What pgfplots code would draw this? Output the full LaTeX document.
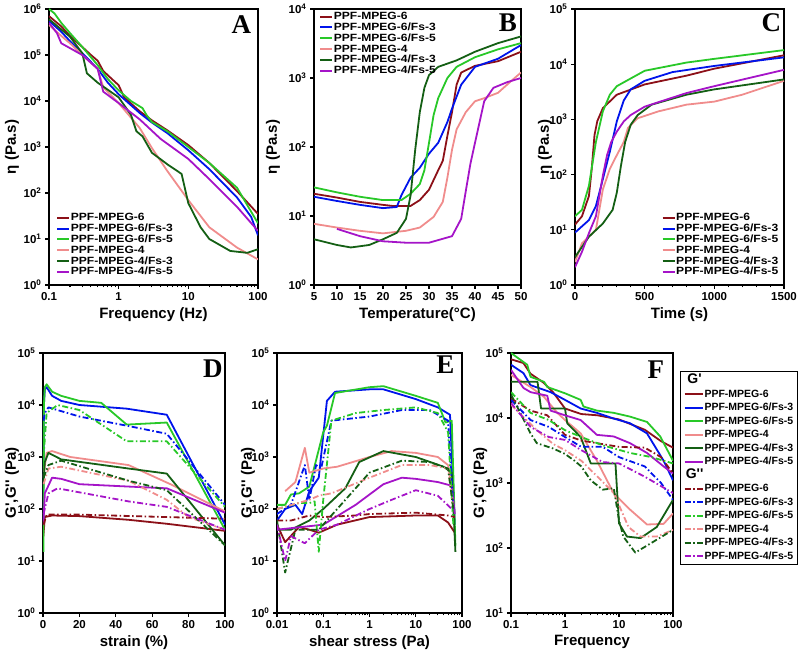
\documentclass[border=0pt]{standalone}
\usepackage{fontspec}
\setmainfont{Liberation Sans}
\newfontfamily\serifletter{Liberation Serif}
\newfontfamily\legfont[FakeStretch=1.15]{Liberation Sans}
\usepackage{pgfplots}
\pgfplotsset{compat=1.18}
\definecolor{cR}{RGB}{140,16,24}
\definecolor{cB}{RGB}{0,20,235}
\definecolor{cG}{RGB}{40,200,40}
\definecolor{cP}{RGB}{240,140,140}
\definecolor{cD}{RGB}{20,95,20}
\definecolor{cV}{RGB}{165,20,200}
\newcommand{\E}[1]{10\textsuperscript{#1}}
\newcommand{\Gp}{G\textquotesingle}
\newcommand{\Gpp}{G\textquotesingle\textquotesingle}
\newcommand{\panel}[1]{{\serifletter\bfseries\fontsize{27}{27}\selectfont #1}}
\pgfplotsset{
 base/.style={scale only axis, axis line style={line width=1.4pt}, tick align=outside, tick pos=left,
   major tick length=4pt, minor tick length=2.5pt, every tick/.style={black,line width=1.1pt},
   ticklabel style={font=\bfseries\fontsize{11.5}{11.5}\selectfont},
   label style={font=\bfseries\fontsize{15}{15}\selectfont},
   /pgf/number format/assume math mode=true, no markers, yminorticks=false,
   every axis plot/.append style={line width=1.8pt, line join=round},
   legend cell align=left},
 ylab/.style={ylabel style={at={(axis description cs:#1,0.5)}, anchor=center}},
 lg/.style={legend style={draw=none, fill=none, font=\legfont\bfseries\fontsize{10.5}{10.5}\selectfont, row sep=0pt,
   nodes={inner sep=0.5pt, text height=8pt, text depth=1.8pt}},
   legend image code/.code={\draw[##1, line width=2pt] (0pt,0pt) -- (12pt,0pt);}},
 dd/.style={dash pattern=on 6pt off 2.5pt on 1.5pt off 2.5pt},
}
\begin{document}
\begin{tikzpicture}
\path[use as bounding box] (0,0) rectangle (800pt,653pt);
% ---------------- A
\begin{axis}[base, lg, ylab=-0.177, at={(49pt,368pt)}, anchor=south west, width=209pt, height=276pt,
  xmode=log, ymode=log, xmin=0.1, xmax=100, ymin=1, ymax=1e6,
  xtick={0.1,1,10,100}, xticklabels={0.1,1,10,100},
  ytick={1,10,100,1000,10000,100000,1000000}, yticklabels={\E{0},\E{1},\E{2},\E{3},\E{4},\E{5},\E{6}},
  xlabel={Frequency (Hz)}, ylabel={η (Pa.s)},
  legend style={at={(0.02,0.02)}, anchor=south west}]
\addplot[cR] coordinates {(0.1,7e5)(0.15,4.2e5)(0.2,2.6e5)(0.3,1.5e5)(0.4,1e5)(0.5,7.5e4)(0.6,4.5e4)(0.8,3e4)(1,2.2e4)(1.2,1.2e4)(2,6000)(3,3800)(5,2300)(10,1100)(20,450)(50,110)(100,35)};
\addlegendentry{PPF-MPEG-6}
\addplot[cB] coordinates {(0.1,5.5e5)(0.15,3.2e5)(0.2,2e5)(0.3,1.1e5)(0.5,5e4)(0.7,2.5e4)(1,1.4e4)(2,5500)(3,3400)(5,2000)(10,850)(20,330)(50,80)(80,30)(100,12)};
\addlegendentry{PPF-MPEG-6/Fs-3}
\addplot[cG] coordinates {(0.1,1e6)(0.12,8e5)(0.15,5e5)(0.2,3e5)(0.3,1.5e5)(0.5,6e4)(0.7,3e4)(1,1.7e4)(1.5,1e4)(2.2,7000)(2.5,5000)(3,3500)(5,2200)(10,1000)(20,450)(50,130)(100,22)};
\addlegendentry{PPF-MPEG-6/Fs-5}
\addplot[cP] coordinates {(0.1,4.5e5)(0.15,2.6e5)(0.2,1.8e5)(0.3,1e5)(0.5,5e4)(0.6,2e4)(1,9000)(2,2600)(3,950)(5,300)(10,70)(20,18)(50,6.5)(100,3.6)};
\addlegendentry{PPF-MPEG-4}
\addplot[cD] coordinates {(0.1,6e5)(0.2,2.5e5)(0.3,1.1e5)(0.35,4e4)(0.5,2.5e4)(1,1.2e4)(1.5,5000)(1.8,2200)(2.2,1700)(3,750)(5,420)(8,260)(10,60)(15,18)(20,10)(40,5.5)(70,5)(100,6)};
\addlegendentry{PPF-MPEG-4/Fs-3}
\addplot[cV] coordinates {(0.1,5e5)(0.13,3e5)(0.15,1.8e5)(0.3,1e5)(0.5,5e4)(0.6,1.6e4)(1,9000)(2,4000)(4,1500)(10,550)(20,200)(50,50)(100,15)};
\addlegendentry{PPF-MPEG-4/Fs-5}
\node at (rel axis cs:0.92,0.945) {\panel{A}};
\end{axis}
% ---------------- B
\begin{axis}[base, lg, ylab=-0.198, at={(314pt,368pt)}, anchor=south west, width=207pt, height=276pt,
  ymode=log, xmin=5, xmax=50, ymin=1, ymax=1e4,
  xtick={5,10,...,50}, xticklabels={5,10,15,20,25,30,35,40,45,50},
  ytick={1,10,100,1000,10000}, yticklabels={\E{0},\E{1},\E{2},\E{3},\E{4}},
  xlabel={Temperature(°C)}, ylabel={η (Pa.s)},
  legend style={at={(0.01,1.0)}, anchor=north west}]
\addplot[cR] coordinates {(5,21)(10,18.5)(15,16)(20,14.5)(22,14)(26,14)(28,17)(30,24)(32,46)(33,63)(34,145)(35,320)(36,800)(37,1200)(40,1500)(45,1750)(50,2400)};
\addlegendentry{PPF-MPEG-6}
\addplot[cB] coordinates {(5,19)(10,16.5)(15,14.5)(20,13)(23,13.5)(24,20)(26,36)(28,50)(30,80)(32,115)(34,230)(35,360)(37,800)(40,1450)(45,1900)(50,3000)};
\addlegendentry{PPF-MPEG-6/Fs-3}
\addplot[cG] coordinates {(5,26)(10,22)(15,19)(20,17)(24,17)(26,21)(28,29)(29,46)(30,115)(31,290)(32,510)(34,1000)(36,1450)(40,2000)(45,2600)(50,3200)};
\addlegendentry{PPF-MPEG-6/Fs-5}
\addplot[cP] coordinates {(5,7.7)(10,6.8)(15,6.1)(20,5.6)(25,6.1)(28,6.8)(31,9.7)(33,16)(34,36)(35,91)(36,180)(38,320)(40,460)(42,510)(45,610)(48,920)(50,1200)};
\addlegendentry{PPF-MPEG-4}
\addplot[cD] coordinates {(5,4.6)(10,3.8)(13,3.5)(17,3.8)(20,4.6)(23,5.7)(25,9.1)(26,20)(27,91)(28,320)(29,720)(30,1100)(32,1450)(36,1800)(40,2400)(45,3200)(50,4000)};
\addlegendentry{PPF-MPEG-4/Fs-3}
\addplot[cV] coordinates {(10,6.5)(15,5.1)(20,4.3)(25,4.1)(30,4.1)(35,5.1)(37,9.1)(38,23)(39,57)(40,115)(41,230)(42,460)(44,720)(47,870)(50,1000)};
\addlegendentry{PPF-MPEG-4/Fs-5}
\node at (rel axis cs:0.937,0.95) {\panel{B}};
\end{axis}
% ---------------- C
\begin{axis}[base, lg, ylab=-0.144, at={(575pt,368pt)}, anchor=south west, width=209pt, height=276pt,
  ymode=log, xmin=0, xmax=1500, ymin=1, ymax=1e5,
  xtick={0,500,1000,1500}, xticklabels={0,500,1000,1500}, minor x tick num=4,
  ytick={1,10,100,1000,10000,100000}, yticklabels={\E{0},\E{1},\E{2},\E{3},\E{4},\E{5}},
  xlabel={Time (s)}, ylabel={η (Pa.s)},
  legend style={at={(0.99,0.02)}, anchor=south east}]
\addplot[cR] coordinates {(0,12.4)(50,17.6)(100,41)(120,127)(140,520)(160,930)(200,1600)(300,2800)(500,4300)(800,6200)(1000,8300)(1500,14500)};
\addlegendentry{PPF-MPEG-6}
\addplot[cB] coordinates {(0,8.9)(100,15)(150,27)(200,83)(250,260)(300,920)(350,2200)(400,3500)(500,5000)(700,7200)(1000,9300)(1500,13300)};
\addlegendentry{PPF-MPEG-6/Fs-3}
\addplot[cG] coordinates {(0,17.6)(50,23)(100,63)(150,390)(200,1400)(250,2800)(300,4000)(500,7600)(800,10700)(1000,12500)(1500,18000)};
\addlegendentry{PPF-MPEG-6/Fs-5}
\addplot[cP] coordinates {(0,2.6)(50,5.7)(150,10)(200,54)(250,127)(300,225)(350,390)(380,700)(450,1050)(600,1400)(800,1850)(1000,2100)(1200,2800)(1500,5000)};
\addlegendentry{PPF-MPEG-4}
\addplot[cD] coordinates {(0,3.2)(100,7.5)(200,13)(270,23)(300,47)(330,146)(360,390)(400,800)(450,1200)(550,1850)(800,2800)(1000,3500)(1500,5300)};
\addlegendentry{PPF-MPEG-4/Fs-3}
\addplot[cV] coordinates {(0,2.1)(50,4)(100,8.7)(150,17.6)(200,96)(230,225)(260,390)(300,600)(350,920)(400,1200)(500,1700)(800,3000)(1000,4000)(1500,7900)};
\addlegendentry{PPF-MPEG-4/Fs-5}
\node at (rel axis cs:0.94,0.95) {\panel{C}};
\end{axis}
% ---------------- D
\begin{axis}[base, ylab=-0.17, at={(43pt,40pt)}, anchor=south west, width=182pt, height=260pt,
  ymode=log, xmin=0, xmax=100, ymin=1, ymax=1e5,
  xtick={0,20,...,100}, xticklabels={0,20,40,60,80,100},
  ytick={1,10,100,1000,10000,100000}, yticklabels={\E{0},\E{1},\E{2},\E{3},\E{4},\E{5}},
  xlabel={strain (\%)}, ylabel={\Gp,\Gpp\ (Pa)}]
\addplot[cR] coordinates {(0.2,30)(1,70)(5,75)(20,73)(47,62)(68,52)(100,38)};
\addplot[cB] coordinates {(0.2,60)(0.5,1e4)(1,2e4)(2,2.2e4)(5,1.5e4)(10,1.2e4)(20,1e4)(46,8.5e3)(68,6.5e3)(100,50)};
\addplot[cG] coordinates {(0.2,15)(0.5,1e4)(1,2.2e4)(2,2.5e4)(5,1.8e4)(10,1.5e4)(20,1.2e4)(32,1.1e4)(46,4.2e3)(68,4.6e3)(100,40)};
\addplot[cP] coordinates {(0.2,400)(2,1.2e3)(5,1.3e3)(15,1e3)(47,7e2)(70,3e2)(100,90)};
\addplot[cD] coordinates {(0.2,300)(1,800)(3,1.2e3)(10,9e2)(47,6e2)(68,4.8e2)(100,20)};
\addplot[cV] coordinates {(0.2,50)(1,200)(5,400)(10,380)(20,300)(47,270)(68,250)(100,85)};
\addplot[cR,dd] coordinates {(0.3,50)(2,78)(20,78)(68,70)(100,65)};
\addplot[cB,dd] coordinates {(0.3,5e3)(1,7e3)(3,9e3)(20,6e3)(46,4e3)(68,2.8e3)(100,120)};
\addplot[cG,dd] coordinates {(0.3,1e3)(2,7e3)(8,1e4)(20,8e3)(46,2e3)(68,2e3)(100,110)};
\addplot[cP,dd] coordinates {(0.3,300)(3,600)(10,650)(47,350)(68,150)(80,70)(100,40)};
\addplot[cD,dd] coordinates {(0.3,400)(3,700)(10,850)(47,350)(68,230)(100,20)};
\addplot[cV,dd] coordinates {(0.3,80)(3,200)(8,250)(47,140)(68,110)(100,40)};
\node at (rel axis cs:0.934,0.94) {\panel{D}};
\end{axis}
% ---------------- E
\begin{axis}[base, ylab=-0.157, at={(277pt,40pt)}, anchor=south west, width=185pt, height=260pt,
  xmode=log, ymode=log, xmin=0.01, xmax=100, ymin=1, ymax=1e5,
  xtick={0.01,0.1,1,10,100}, xticklabels={0.01,0.1,1,10,100},
  ytick={1,10,100,1000,10000,100000}, yticklabels={\E{0},\E{1},\E{2},\E{3},\E{4},\E{5}},
  xlabel={shear stress (Pa)}, ylabel={\Gp,\Gpp\ (Pa)}]
\addplot[cR] coordinates {(0.01,50)(0.015,23)(0.03,45)(0.05,40)(0.08,35)(0.2,50)(1,70)(10,75)(30,75)(50,55)(70,35)};
\addplot[cB] coordinates {(0.01,60)(0.015,100)(0.025,120)(0.035,80)(0.05,220)(0.08,400)(0.12,1.2e4)(0.18,1.8e4)(1,2e4)(2,2e4)(10,1.3e4)(30,9e3)(55,6.5e3)(70,50)};
\addplot[cG] coordinates {(0.01,120)(0.015,120)(0.02,190)(0.03,200)(0.05,270)(0.1,3000)(0.12,4000)(0.18,1.7e4)(1,2.2e4)(2,2.3e4)(10,1.5e4)(30,1.1e4)(44,4.6e3)(60,5e3)(72,20)};
\addplot[cP] coordinates {(0.015,220)(0.025,330)(0.04,1.5e3)(0.05,500)(0.1,600)(0.2,650)(1,1e3)(3,1.3e3)(10,1.2e3)(30,1e3)(50,700)(65,150)};
\addplot[cD] coordinates {(0.01,40)(0.02,40)(0.05,60)(0.1,100)(0.3,250)(0.6,800)(2,1.3e3)(10,1e3)(40,650)(60,500)(72,15)};
\addplot[cV] coordinates {(0.01,40)(0.1,50)(0.5,120)(2,300)(5,400)(10,380)(30,330)(60,280)(70,80)};
\addplot[cR,dd] coordinates {(0.01,60)(0.02,60)(0.05,75)(0.1,70)(0.5,75)(1,80)(10,85)(50,75)(70,70)};
\addplot[cB,dd] coordinates {(0.01,80)(0.02,120)(0.04,700)(0.05,150)(0.07,700)(0.09,600)(0.15,5e3)(1,6e3)(5,8e3)(20,8e3)(50,5e3)(65,100)};
\addplot[cG,dd] coordinates {(0.01,100)(0.03,130)(0.05,130)(0.065,140)(0.08,15)(0.1,150)(0.15,5e3)(0.5,7e3)(2,8e3)(10,9e3)(30,7e3)(50,3e3)(65,50)};
\addplot[cP,dd] coordinates {(0.01,100)(0.05,150)(0.08,180)(0.15,200)(1,400)(5,700)(20,700)(50,600)(65,100)};
\addplot[cD,dd] coordinates {(0.01,60)(0.015,6)(0.025,40)(0.05,40)(0.08,40)(0.1,50)(0.3,150)(1,500)(5,850)(20,800)(50,600)(65,100)};
\addplot[cV,dd] coordinates {(0.01,50)(0.015,10)(0.02,30)(0.04,22)(0.08,40)(0.2,50)(1,100)(3,150)(10,230)(30,180)(60,100)};
\node at (rel axis cs:0.91,0.954) {\panel{E}};
\end{axis}
% ---------------- F
\begin{axis}[base, ylab=-0.19, at={(511pt,40pt)}, anchor=south west, width=162pt, height=260pt,
  xmode=log, ymode=log, xmin=0.1, xmax=100, ymin=10, ymax=1e5,
  xtick={0.1,1,10,100}, xticklabels={0.1,1,10,100},
  ytick={10,100,1000,10000,100000}, yticklabels={\E{1},\E{2},\E{3},\E{4},\E{5}},
  xlabel={Frequency}, ylabel={\Gp,\Gpp\ (Pa)},
  legend style={at={(1.043,0.93)}, anchor=north west, draw=black, line width=1.2pt, fill=white,
    font=\bfseries\fontsize{10.5}{10.5}\selectfont, row sep=0pt,
    nodes={inner sep=1pt, text height=9pt, text depth=2.5pt}},
  legend image code/.code={\draw[#1, line width=2pt] (0pt,0pt) -- (18pt,0pt);}]
\addlegendimage{empty legend}\addlegendentry{\hspace*{-19pt}\fontsize{14}{14}\selectfont\Gp}
\addplot[cR] coordinates {(0.1,8e4)(0.17,7e4)(0.23,4.8e4)(0.4,3.5e4)(0.6,2.5e4)(1,1.4e4)(2,1.15e4)(4,1.1e4)(10,9.5e3)(30,6.6e3)(60,4.4e3)(100,3.5e3)};
\addlegendentry{PPF-MPEG-6}
\addplot[cB] coordinates {(0.1,6.6e4)(0.17,4.9e4)(0.23,3.2e4)(0.54,2.5e4)(1,1.9e4)(1.95,1.4e4)(3.9,1.2e4)(8,9.8e3)(16,8.3e3)(33,5.8e3)(67,2.2e3)(100,1.1e3)};
\addlegendentry{PPF-MPEG-6/Fs-3}
\addplot[cG] coordinates {(0.1,1e5)(0.2,6.6e4)(0.23,4.3e4)(0.41,3.6e4)(0.47,3e4)(1,2.4e4)(1.95,1.9e4)(2.2,1.5e4)(3.9,1.3e4)(8,1.2e4)(16,1.05e4)(33,8.7e3)(58,5.2e3)(100,2.2e3)};
\addlegendentry{PPF-MPEG-6/Fs-5}
\addplot[cP] coordinates {(0.1,4.6e4)(0.23,3e4)(0.41,2.1e4)(0.72,1.2e4)(1,9.3e3)(1.95,5.8e3)(3.9,2.2e3)(8,690)(16,390)(33,230)(67,235)(100,340)};
\addlegendentry{PPF-MPEG-4}
\addplot[cD] coordinates {(0.1,3.6e4)(0.31,3.6e4)(0.36,1.4e4)(1,1.4e4)(1.1,8.3e3)(1.95,5.1e3)(3,2e3)(8.6,2e3)(10,240)(14,150)(25,142)(50,210)(100,550)};
\addlegendentry{PPF-MPEG-4/Fs-3}
\addplot[cV] coordinates {(0.1,5.5e4)(0.17,2.9e4)(0.23,2.5e4)(0.47,2.2e4)(0.54,1.3e4)(1,1.1e4)(1.95,9.3e3)(3.9,5.5e3)(8,5.2e3)(16,4.1e3)(33,2.9e3)(67,1.8e3)(100,1.4e3)};
\addlegendentry{PPF-MPEG-4/Fs-5}
\addlegendimage{empty legend}\addlegendentry{\rule{0pt}{19pt}\hspace*{-19pt}\fontsize{14}{14}\selectfont\Gpp}
\addplot[cR,dd] coordinates {(0.1,2e4)(0.23,1.3e4)(0.47,1.1e4)(1,5.5e3)(2,4.5e3)(10,3.6e3)(30,3.5e3)(60,2.5e3)(100,1.4e3)};
\addlegendentry{PPF-MPEG-6}
\addplot[cB,dd] coordinates {(0.1,1.9e4)(0.23,9.3e3)(0.5,7.3e3)(1,5.1e3)(2,3.6e3)(5,3.6e3)(10,2.5e3)(30,1.8e3)(60,1e3)(100,550)};
\addlegendentry{PPF-MPEG-6/Fs-3}
\addplot[cG,dd] coordinates {(0.1,2.5e4)(0.23,1.2e4)(0.5,9.3e3)(1,6.5e3)(2,5.1e3)(5,3.8e3)(16,2.9e3)(40,2.5e3)(100,2e3)};
\addlegendentry{PPF-MPEG-6/Fs-5}
\addplot[cP,dd] coordinates {(0.1,1.6e4)(0.3,6.5e3)(0.6,4e3)(1,3.2e3)(2,2.2e3)(4,1.25e3)(8,700)(15,210)(25,150)(50,150)(100,190)};
\addlegendentry{PPF-MPEG-4}
\addplot[cD,dd] coordinates {(0.1,2.3e4)(0.23,5.8e3)(0.3,4.1e3)(0.6,3.4e3)(1,2.8e3)(1.5,2.2e3)(2,1.8e3)(3,1.1e3)(5,790)(8,830)(10,270)(12,150)(20,85)(40,120)(100,190)};
\addlegendentry{PPF-MPEG-4/Fs-3}
\addplot[cV,dd] coordinates {(0.1,1.7e4)(0.23,7.3e3)(0.5,5.1e3)(1,4.6e3)(2,3.2e3)(5,2.1e3)(10,2e3)(30,1.25e3)(100,700)};
\addlegendentry{PPF-MPEG-4/Fs-5}
\node at (rel axis cs:0.895,0.935) {\panel{F}};
\end{axis}
\end{tikzpicture}
\end{document}
